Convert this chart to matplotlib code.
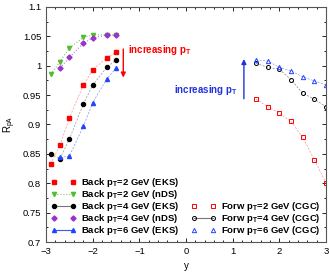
import numpy as np
import matplotlib.pyplot as plt
from matplotlib.ticker import MultipleLocator

# backward rapidity (EKS / nDS)
y_back = [-2.9, -2.7, -2.5, -2.2, -2.0, -1.7, -1.5]
back_pt2_eks = [0.833, 0.865, 0.911, 0.967, 0.993, 1.013, 1.023]
back_pt2_nds = [0.985, 1.007, 1.030, 1.048, 1.052, 1.053, 1.052]
back_pt4_eks = [0.850, 0.842, 0.875, 0.935, 0.967, 0.997, 1.010]
y_back4n = [-2.7, -2.5, -2.2, -2.0, -1.7, -1.5]
back_pt4_nds = [0.996, 1.014, 1.038, 1.047, 1.052, 1.052]
y_back6 = [-2.7, -2.5, -2.2, -2.0, -1.7, -1.5]
back_pt6_eks = [0.844, 0.846, 0.897, 0.937, 0.977, 0.996]

# forward rapidity (CGC)
y_forw = [1.5, 1.75, 2.0, 2.25, 2.5, 2.75, 3.0]
forw_pt2 = [0.943, 0.930, 0.919, 0.905, 0.878, 0.840, 0.800]
forw_pt4 = [1.004, 0.997, 0.994, 0.976, 0.953, 0.943, 0.930]
forw_pt6 = [1.010, 1.008, 0.997, 0.991, 0.981, 0.974, 0.967]

plt.rcParams['font.family'] = ['Liberation Sans', 'DejaVu Sans']
plt.rcParams['mathtext.default'] = 'regular'
fig = plt.figure(figsize=(3.29, 2.75), dpi=100)
ax = fig.add_axes([0.14, 0.12, 0.851, 0.855])

lw = 0.5
ms = 2.6
ax.plot(y_back, back_pt2_eks, color='#ff9090', ls='--', lw=lw, dashes=(3, 2))
ax.plot(y_back, back_pt2_eks, ls='none', marker='s', ms=ms, color='red', label='Back p$_T$=2 GeV (EKS)')
ax.plot(y_back, back_pt2_nds, color='#77cc55', ls=':', lw=0.8, marker='v', ms=ms + 0.4, mfc='#55bb33', mec='#55bb33',
        label='Back p$_T$=2 GeV (nDS)')
ax.plot(y_back, back_pt4_eks, color='#999999', ls='--', lw=lw, dashes=(3, 2))
ax.plot([], [], color='#777777', lw=0.8, marker='o', ms=ms + 0.3, mfc='black', mec='black', label='Back p$_T$=4 GeV (EKS)')
ax.plot(y_back, back_pt4_eks, ls='none', marker='o', ms=ms + 0.3, color='black')
ax.plot(y_back4n, back_pt4_nds, color='#bb77ee', ls=':', lw=0.8)
ax.plot(y_back4n, back_pt4_nds, ls='none', marker='D', ms=ms, color='#9933cc', label='Back p$_T$=4 GeV (nDS)')
ax.plot(y_back6, back_pt6_eks, color='#7799ff', ls='--', lw=lw, dashes=(3, 2))
ax.plot([], [], color='#3355ff', lw=0.8, marker='^', ms=ms + 0.3, mfc='#2244ff', mec='#2244ff', label='Back p$_T$=6 GeV (EKS)')
ax.plot(y_back6, back_pt6_eks, ls='none', marker='^', ms=ms + 0.3, color='#2244ff')

ax.plot(y_forw, forw_pt2, color='#ff9090', ls='--', lw=lw, dashes=(3, 2))
ax.plot(y_forw, forw_pt2, ls='none', marker='s', ms=ms, mfc='none', mec='red', mew=0.7, label='Forw p$_T$=2 GeV (CGC)')
ax.plot(y_forw, forw_pt4, color='#888888', ls='--', lw=lw, dashes=(3, 2))
ax.plot([], [], color='#777777', lw=0.8, marker='o', ms=ms + 0.3, mfc='none', mec='black', mew=0.7, label='Forw p$_T$=4 GeV (CGC)')
ax.plot(y_forw, forw_pt4, ls='none', marker='o', ms=ms + 0.3, mfc='none', mec='black', mew=0.7)
ax.plot(y_forw, forw_pt6, color='#8899ff', ls='--', lw=lw, dashes=(3, 2))
ax.plot(y_forw, forw_pt6, ls='none', marker='^', ms=ms + 0.5, mfc='none', mec='#2244ff', mew=0.7, label='Forw p$_T$=6 GeV (CGC)')

# arrows and labels
ax.annotate('', xy=(-1.345, 0.975), xytext=(-1.345, 1.033),
            arrowprops=dict(arrowstyle='-|>', color='red', lw=1.0, mutation_scale=7))
ax.text(-1.25, 1.027, 'increasing p$_T$', color='red', fontsize=7, fontweight='bold', va='center')
ax.annotate('', xy=(1.24, 1.016), xytext=(1.24, 0.939),
            arrowprops=dict(arrowstyle='-|>', color='#2233dd', lw=1.0, mutation_scale=7))
ax.text(1.11, 0.959, 'increasing p$_T$', color='#2233dd', fontsize=7, fontweight='bold', va='center', ha='right')

ax.set_xlim(-3, 3)
ax.set_ylim(0.7, 1.1)
ax.xaxis.set_minor_locator(MultipleLocator(0.2))
ax.yaxis.set_minor_locator(MultipleLocator(0.025))
ax.set_yticks([0.7, 0.75, 0.8, 0.85, 0.9, 0.95, 1.0, 1.05, 1.1])
ax.set_yticklabels(['0.7', '0.75', '0.8', '0.85', '0.9', '0.95', '1', '1.05', '1.1'])
ax.set_xticks([-3, -2, -1, 0, 1, 2, 3])
ax.set_xticklabels(['\u22123', '\u22122', '\u22121', '0', '1', '2', '3'])
ax.tick_params(which='both', direction='in', top=True, right=True, labelsize=6.8, width=0.6)
ax.tick_params(which='major', length=3)
ax.tick_params(which='minor', length=1.5)
for s in ax.spines.values():
    s.set_color('#555555')
    s.set_linewidth(0.8)

ax.set_xlabel('y', fontsize=7, labelpad=4)
ax.set_ylabel('R$_{pA}$', fontsize=7)
ax.yaxis.set_label_coords(-0.1, 0.5)

h, l = ax.get_legend_handles_labels()
back_idx = [i for i, t in enumerate(l) if t.startswith('Back')]
forw_idx = [i for i, t in enumerate(l) if t.startswith('Forw')]
leg_kw = dict(frameon=False, handlelength=2.6, handletextpad=0.6, labelspacing=-0.12,
              numpoints=2, borderaxespad=0.15, prop={'weight': 'bold', 'size': 6.8})
leg1 = ax.legend([h[i] for i in back_idx], [l[i] for i in back_idx], loc='lower left',
                 bbox_to_anchor=(0.0, 0.0), **leg_kw)
ax.add_artist(leg1)
ax.legend([h[i] for i in forw_idx], [l[i] for i in forw_idx], loc='lower right',
          bbox_to_anchor=(1.0, 0.0), **leg_kw)

fig.savefig('out.png', dpi=100)
